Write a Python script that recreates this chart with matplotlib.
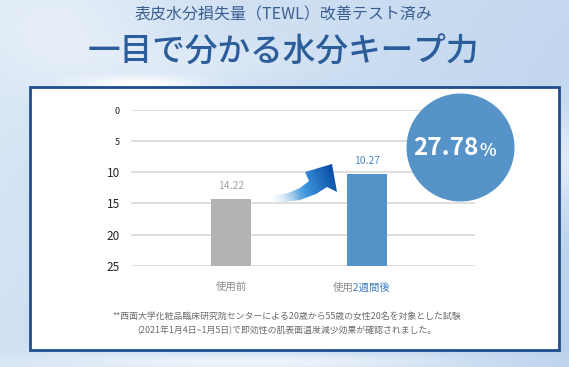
import numpy as np
import matplotlib
matplotlib.use("Agg")
import matplotlib.pyplot as plt
from matplotlib.patches import Rectangle, Circle, Polygon
from matplotlib.colors import to_rgb
from matplotlib.transforms import Bbox

plt.rcParams['font.family'] = ['Noto Sans CJK JP', 'DejaVu Sans']

# ---- data ----
categories = ["使用前", "使用2週間後"]
values = [14.22, 10.27]
value_labels = ["14.22", "10.27"]
yticks = [0, 5, 10, 15, 20, 25]
reduction_label = "27.78"
subtitle = "表皮水分損失量（TEWL）改善テスト済み"
title = "一目で分かる水分キープ力"
note1 = "**西面大学化粧品臨床研究院センターによる20歳から55歳の女性20名を対象とした試験"
note2 = "(2021年1月4日~1月5日)で即効性の肌表面温度減少効果が確認されました。"

W, H = 569, 367
fig = plt.figure(figsize=(W / 100, H / 100), dpi=100)

# ---- background (decorative) ----
bg = fig.add_axes([0, 0, 1, 1], zorder=0)
bg.set_xlim(0, W); bg.set_ylim(H, 0); bg.axis('off')
yy, xx = np.mgrid[0:H, 0:W]
base = np.array(to_rgb('#b9d1ec'))
light = np.array(to_rgb('#e3edf8'))
t = np.clip(0.55 * (1 - xx / W) + 0.25 * (1 - yy / H), 0, 1)[..., None]
img = base * (1 - t) + light * t
def blob(cx, cy, sx, sy, a):
    return a * np.exp(-(((xx - cx) / sx) ** 2 + ((yy - cy) / sy) ** 2))[..., None]
glow = blob(140, 83, 60, 7, 0.9) + blob(60, 30, 90, 60, 0.35) + blob(250, 362, 220, 10, 0.7) \
    + blob(565, 160, 10, 50, 0.5) + blob(200, 60, 120, 20, 0.25)
img = img * (1 - np.clip(glow, 0, 1)) + np.clip(glow, 0, 1)
bg.imshow(img, extent=[0, W, H, 0], aspect='auto', zorder=0)

bg.add_patch(Rectangle((30, 87), 529, 263, facecolor='white', edgecolor='#1f4e8c',
                       lw=2.0, zorder=1))
bg.text(W / 2 - 1, 15, subtitle, ha='center', va='center', fontsize=11.5,
        color='#3b5f91', zorder=2)
bg.text(W / 2 - 1, 52, title, ha='center', va='center', fontsize=23.5,
        fontweight='medium', color='#2c5d9b', zorder=2)
bg.text(287, 316.5, note1, ha='center', va='center', fontsize=6.4, color='#6b6b6b', zorder=2)
bg.text(287, 330.5, note2, ha='center', va='center', fontsize=6.4, color='#6b6b6b', zorder=2)

# ---- chart ----
x0, x1 = 131, 475
ytop, ybot = 110, 265.7
ax = fig.add_axes([x0 / W, (H - ybot) / H, (x1 - x0) / W, (ybot - ytop) / H], zorder=1)
ax.patch.set_alpha(0)
unit = 136.0
ax.set_xlim(-100 / unit, 1 + 108 / unit)
ax.set_ylim(25, 0)
ax.set_yticks(yticks)
ax.yaxis.grid(True, color='#d9d9d9', lw=1.2)
ax.set_axisbelow(True)
for s in ax.spines.values():
    s.set_visible(False)
ax.tick_params(axis='y', length=0, pad=8, labelcolor='#222222')
ax.set_yticklabels([str(v) for v in yticks])
for lab, v in zip(ax.get_yticklabels(), yticks):
    lab.set_fontsize(6.5 if v < 10 else 8.5)
ax.set_xticks([])
xs = np.arange(len(categories))
colors = ['#b3b3b3', '#5592c8']
for i, (v, c) in enumerate(zip(values, colors)):
    ax.bar(xs[i], v - 25, bottom=25, width=0.30, color=c, zorder=2)
ax.text(xs[0], values[0] - 1.2, value_labels[0], ha='center', va='bottom', fontsize=7.5,
        color='#a3a3a3')
ax.text(xs[1], values[1] - 1.2, value_labels[1], ha='center', va='bottom', fontsize=7.5,
        color='#4f8cc6')
# category labels
ax.text(xs[0], 28.3, categories[0], ha='center', va='center', fontsize=7.5, color='#8a8a8a')
# second label: one string, drawn twice with clipping so that the first two
# full-width characters are grey and the rest blue
lab2 = categories[1]
fs = 7.5
start_px = 333.0
split_px = start_px + 2 * fs * 100 / 72.0
for col, (cx0, cx1) in [('#8a8a8a', (start_px - 10, split_px)),
                        ('#3f80c0', (split_px, start_px + 120))]:
    tx = bg.text(start_px, 288, lab2, ha='left', va='center', fontsize=fs, color=col,
                 zorder=3, clip_on=True)
    tx.set_clip_box(Bbox([[cx0, H - 300], [cx1, H - 276]]))

# ---- overlay: arrow and circle ----
ov = fig.add_axes([0, 0, 1, 1], zorder=2)
ov.set_xlim(0, W); ov.set_ylim(H, 0); ov.axis('off'); ov.patch.set_alpha(0)
pts = [(268, 197), (288, 193), (300, 188), (309, 181), (305, 172), (332, 164),
       (337, 192), (327, 187), (316, 194), (300, 200), (284, 202), (268, 202)]
poly = Polygon(pts, closed=True, facecolor='none', edgecolor='none')
ov.add_patch(poly)
gx = np.linspace(0, 1, 200)[None, :]
gy = np.linspace(0, 1, 60)[:, None]
tt = np.clip(gx * 0.9 + (1 - gy) * 0.2, 0, 1)
c_dark = np.array(to_rgb('#0b4ea6')); c_mid = np.array(to_rgb('#3d95dc'))
rgba = np.zeros((60, 200, 4))
for k in range(3):
    rgba[..., k] = np.where(tt < 0.55, 1 - (1 - c_mid[k]) * (tt / 0.55),
                            c_mid[k] + (c_dark[k] - c_mid[k]) * ((tt - 0.55) / 0.45))
rgba[..., 3] = np.clip(tt * 2.2, 0, 1)
im = ov.imshow(rgba, extent=[268, 338, 203, 163], aspect='auto', zorder=3)
im.set_clip_path(poly)

ov.add_patch(Circle((460.5, 147.5), 54, facecolor='#5693c8', edgecolor='none', zorder=4))
ov.text(479, 148, reduction_label, ha='right', va='center', fontsize=17.5, fontweight='bold',
        color='white', zorder=5)
ov.text(479.5, 151, "%", ha='left', va='center', fontsize=12.5, fontweight='bold',
        color='white', zorder=5)
ov.set_xlim(0, W); ov.set_ylim(H, 0)

fig.savefig('out.png', dpi=100)
